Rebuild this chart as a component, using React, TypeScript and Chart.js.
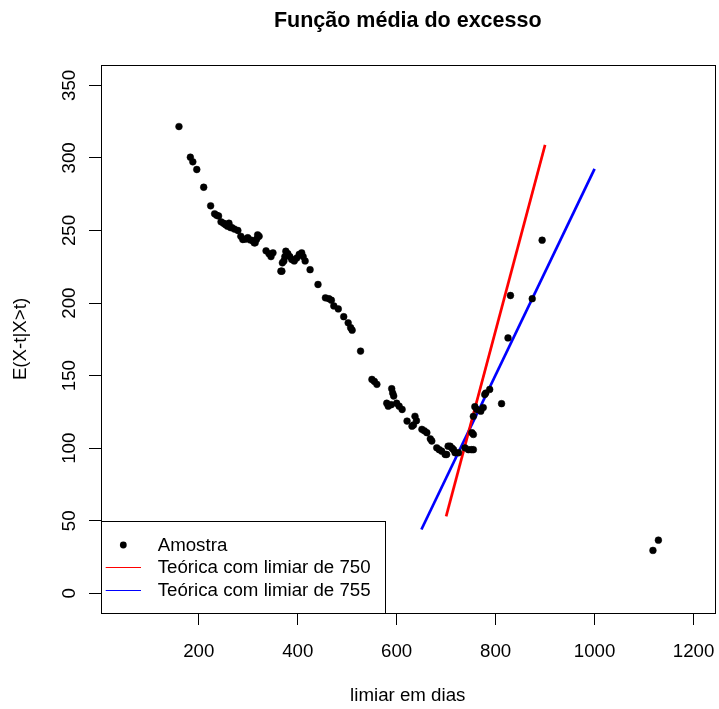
import React, { useEffect, useRef } from "react";
import { Chart, registerables } from "chart.js";

Chart.register(...registerables);

const chartTitle = "Função média do excesso";
const xAxisTitle = "limiar em dias";
const yAxisTitle = "E(X-t|X>t)";
const legendLabels = ["Amostra", "Teórica com limiar de 750", "Teórica com limiar de 755"];

const xTicks = [200, 400, 600, 800, 1000, 1200];
const yTicks = [0, 50, 100, 150, 200, 250, 300, 350];

const sampleX = [
  160, 183, 188, 196, 210, 224, 232, 236, 240, 245, 250, 254, 258, 261, 264, 267, 272, 279, 285, 289,
  294, 299, 304, 309, 312, 314, 317, 319, 322, 336, 342, 346, 350, 366, 368, 369, 372, 374, 376, 380,
  384, 388, 393, 398, 403, 408, 411, 415, 425, 441, 456, 463, 468, 473, 482, 493, 502, 507, 510, 527,
  550, 555, 560, 580, 583, 589, 590, 592, 594, 600, 605, 611, 621, 631, 634, 637, 640, 651, 656, 661,
  668, 671, 681, 686, 691, 698, 701, 704, 708, 712, 715, 718, 725, 738, 745, 751, 752, 755, 755, 755,
  758, 762, 770, 775, 778, 780, 788, 812, 825, 830, 874, 894, 1118, 1129,
];
const sampleY = [
  321.6, 300.5, 297.3, 292, 279.8, 267, 261.5, 260.5, 260, 256, 255, 254, 253, 255, 252, 252, 251, 250, 246, 243.8,
  244, 245, 243.5, 243, 241.5, 241.5, 244, 247, 246, 236, 234, 232, 234.6, 222, 222, 227.7, 229, 232, 235.7, 234,
  232, 230, 229, 231, 233.5, 234.6, 232, 229, 223, 212.8, 203.6, 203, 202, 198, 196, 190.6, 186.4, 183, 181.3, 166.9,
  147.4, 146, 144, 131, 129, 130, 141, 138, 136, 131, 129, 126.7, 118.7, 115.2, 116, 122, 119, 113, 112, 110.7,
  106.5, 105, 100.3, 99, 98, 95.7, 95.7, 101.4, 101.4, 100, 99, 96.9, 96.9, 100.3, 99, 99, 110.7, 122, 99, 109.5,
  128.6, 126.7, 125.5, 128, 137, 138, 140.5, 130.7, 176, 205.2, 203, 243.3, 29.6, 36.7,
];

const line750X = [700, 900];
const line750Y = [53, 309];
const line755X = [650, 1000];
const line755Y = [44, 292.5];

const FONT = '"Liberation Sans", Arial, Helvetica, sans-serif';

const textPlugin = {
  id: "rtext",
  afterDatasetsDraw(chart: any) {
    const ctx = chart.ctx;
    const area = chart.chartArea;
    const xs = chart.scales.x;
    const ys = chart.scales.y;
    ctx.save();
    // plot box
    ctx.strokeStyle = "#000";
    ctx.lineWidth = 1;
    ctx.strokeRect(Math.round(area.left) + 0.5, Math.round(area.top) + 0.5, Math.round(area.right - area.left), Math.round(area.bottom - area.top));

    ctx.fillStyle = "#000";
    // title
    ctx.font = `bold 21.5px ${FONT}`;
    ctx.textAlign = "center";
    ctx.textBaseline = "alphabetic";
    ctx.fillText(chartTitle, (area.left + area.right) / 2, 27);

    ctx.font = `18.7px ${FONT}`;
    // x tick labels
    xTicks.forEach((v) => {
      ctx.fillText(String(v), xs.getPixelForValue(v), 656.5);
    });
    // x title
    ctx.fillText(xAxisTitle, (area.left + area.right) / 2, 700.5);
    // y tick labels
    yTicks.forEach((v) => {
      ctx.save();
      ctx.translate(75, ys.getPixelForValue(v));
      ctx.rotate(-Math.PI / 2);
      ctx.fillText(String(v), 0, 0);
      ctx.restore();
    });
    // y title
    ctx.save();
    ctx.translate(26, (area.top + area.bottom) / 2);
    ctx.rotate(-Math.PI / 2);
    ctx.fillText(yAxisTitle, 0, 0);
    ctx.restore();

    // legend
    const lx0 = 101, lx1 = 385, ly0 = 521, ly1 = 613;
    ctx.fillStyle = "#fff";
    ctx.fillRect(lx0, ly0, lx1 - lx0, ly1 - ly0);
    ctx.strokeStyle = "#000";
    ctx.lineWidth = 1;
    ctx.strokeRect(lx0 + 0.5, ly0 + 0.5, lx1 - lx0, ly1 - ly0);
    const rows = [545, 567.5, 590.5];
    ctx.fillStyle = "#000";
    ctx.beginPath();
    ctx.arc(123.3, rows[0], 3.4, 0, Math.PI * 2);
    ctx.fill();
    ctx.lineWidth = 1.2;
    ctx.strokeStyle = "#ff0000";
    ctx.beginPath();
    ctx.moveTo(105.7, rows[1]);
    ctx.lineTo(141, rows[1]);
    ctx.stroke();
    ctx.strokeStyle = "#0000ff";
    ctx.beginPath();
    ctx.moveTo(105.7, rows[2]);
    ctx.lineTo(141, rows[2]);
    ctx.stroke();
    ctx.fillStyle = "#000";
    ctx.textAlign = "left";
    ctx.textBaseline = "alphabetic";
    legendLabels.forEach((t, i) => {
      ctx.fillText(t, 157.7, rows[i] + 5.8);
    });
    ctx.restore();
  },
};

export default function App() {
  const ref = useRef<HTMLCanvasElement | null>(null);
  useEffect(() => {
    if (!ref.current) return;
    const chart = new Chart(ref.current, {
      type: "scatter",
      data: {
        datasets: [
          {
            label: legendLabels[0],
            data: sampleX.map((x, i) => ({ x, y: sampleY[i] })),
            pointRadius: 3.4,
            pointBackgroundColor: "#000",
            pointBorderColor: "#000",
            pointBorderWidth: 0.5,
            showLine: false,
          },
          {
            label: legendLabels[1],
            type: "line",
            data: line750X.map((x, i) => ({ x, y: line750Y[i] })),
            borderColor: "#ff0000",
            borderWidth: 2.7,
            pointRadius: 0,
            fill: false,
          },
          {
            label: legendLabels[2],
            type: "line",
            data: line755X.map((x, i) => ({ x, y: line755Y[i] })),
            borderColor: "#0000ff",
            borderWidth: 2.7,
            pointRadius: 0,
            fill: false,
          },
        ] as any,
      },
      options: {
        animation: false,
        responsive: false,
        events: [],
        layout: { padding: { top: 65, right: 1.5, left: 0, bottom: 0 } },
        plugins: {
          legend: { display: false },
          tooltip: { enabled: false },
          title: { display: false },
        },
        scales: {
          x: {
            type: "linear",
            min: 2.4,
            max: 1242.4,
            afterBuildTicks: (s: any) => {
              s.ticks = xTicks.map((v) => ({ value: v }));
            },
            afterFit: (s: any) => {
              s.height = 96;
            },
            grid: { drawOnChartArea: false, drawTicks: true, tickLength: 12, color: "#000", lineWidth: 1 },
            border: { display: false },
            ticks: { color: "rgba(0,0,0,0)", font: { size: 12 } },
          },
          y: {
            type: "linear",
            min: -13.5,
            max: 364,
            afterBuildTicks: (s: any) => {
              s.ticks = yTicks.map((v) => ({ value: v }));
            },
            afterFit: (s: any) => {
              s.width = 101;
            },
            grid: { drawOnChartArea: false, drawTicks: true, tickLength: 12, color: "#000", lineWidth: 1 },
            border: { display: false },
            ticks: { color: "rgba(0,0,0,0)", font: { size: 12 } },
          },
        },
      } as any,
      plugins: [textPlugin],
    });
    return () => chart.destroy();
  }, []);
  return (
    <div style={{ position: "absolute", left: 0, top: 0, width: 719, height: 709, background: "#fff" }}>
      <canvas ref={ref} width={719} height={709} style={{ display: "block", width: 719, height: 709 }} />
    </div>
  );
}
